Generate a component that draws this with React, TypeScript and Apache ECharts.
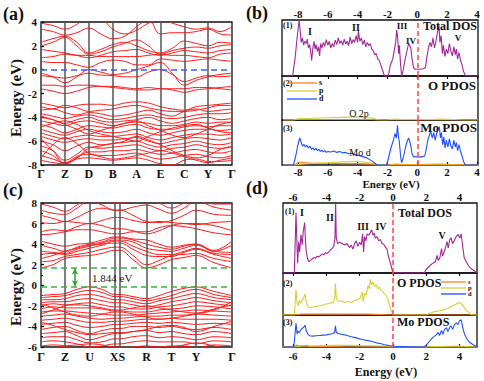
import React, { useEffect, useRef } from "react";
import * as echarts from "echarts";

const FONT = "'Liberation Serif', 'Times New Roman', serif";
const RED = "#ff1a1a";
const MAGENTA = "#a3279b";
const ORANGE = "#ff7f27";
const YELLOW = "#d6d032";
const BLUE = "#1f4fff";

// ---------- Panel (a): band structure ----------
const kA = [0, 0.5, 1, 1.5, 2, 2.5, 3, 3.5, 4, 4.5, 5, 5.5, 6, 6.5, 7, 7.5, 8];
const symA = [0, 1, 2, 3, 4, 5, 6, 7, 8];
const symLabelsA = ["Γ", "Z", "D", "B", "A", "E", "C", "Y", "Γ"];
const yTicksA = [-8, 4];

const bandsAConduction = [
  [3.9, 3.7, 3.4, 3.8, 4.4, 4.3, 3.4, 3.0, 3.3, 3.9, 4.2, 3.9, 3.6, 3.4, 3.5, 3.2, 3.6],
  [3.4, 3.2, 2.9, 3.1, 3.5, 3.0, 2.6, 2.8, 3.6, 4.2, 3.0, 3.1, 3.1, 3.2, 3.4, 3.0, 2.9],
  [2.3, 2.6, 2.8, 2.3, 1.4, 1.7, 2.1, 2.3, 2.0, 1.6, 1.4, 1.8, 2.4, 2.2, 2.0, 2.3, 2.2],
  [2.0, 2.3, 2.7, 2.0, 1.3, 1.5, 1.9, 2.2, 2.5, 2.0, 1.3, 1.6, 1.8, 1.9, 1.8, 2.0, 2.1],
  [1.7, 1.55, 1.4, 1.2, 1.0, 1.2, 1.5, 1.6, 1.7, 1.4, 1.2, 1.4, 1.6, 1.5, 1.4, 1.6, 1.7],
  [1.0, 1.1, 1.3, 1.2, 1.2, 1.1, 1.1, 1.1, 1.1, 1.2, 1.3, 1.2, 1.2, 1.1, 1.0, 1.3, 1.4],
  [0.7, 0.6, 0.6, 0.4, 0.2, 0.6, 0.8, 0.7, 0.4, 0.4, 0.9, 0.8, 0.7, 0.8, 0.9, 0.8, 0.7],
  [-0.3, -0.6, -1.1, -0.6, 0.0, -0.2, -0.4, -0.3, 0.0, 0.3, 0.6, -0.3, -1.3, -0.9, -0.6, -0.4, -0.3],
  [-0.5, -0.6, -0.7, -0.5, -0.3, -0.45, -0.5, -0.6, -0.6, -0.2, 0.0, -0.4, -1.0, -0.7, -0.5, -0.6, -0.5],
  [-1.3, -1.3, -1.4, -1.3, -1.3, -1.4, -1.5, -1.6, -1.7, -1.7, -1.6, -1.7, -1.9, -1.7, -1.6, -1.5, -1.4],
  [-1.6, -1.8, -2.0, -1.8, -1.5, -1.4, -1.4, -1.5, -1.6, -1.5, -1.6, -1.6, -1.6, -1.5, -1.5, -1.6, -1.7],
];

const bandsAValence = [
  [-2.8, -3.0, -3.2, -3.0, -2.9, -2.9, -3.0, -2.8, -2.7, -2.8, -3.1, -3.3, -3.4, -3.1, -3.0, -2.9, -2.8],
  [-3.1, -3.3, -3.0, -3.2, -3.5, -3.4, -3.3, -3.1, -3.0, -3.2, -3.4, -3.5, -3.5, -3.4, -3.2, -3.0, -3.0],
  [-3.4, -3.3, -3.6, -3.8, -3.6, -3.7, -3.9, -3.8, -3.6, -3.4, -3.7, -3.9, -3.5, -3.3, -3.5, -3.4, -3.3],
  [-3.7, -3.9, -4.1, -3.9, -3.8, -4.0, -4.2, -4.1, -3.9, -3.8, -4.0, -4.1, -4.0, -3.8, -3.7, -3.7, -3.6],
  [-4.0, -4.2, -4.5, -4.2, -4.0, -4.3, -4.4, -4.3, -4.2, -4.0, -4.3, -4.5, -4.3, -4.1, -4.0, -4.2, -4.1],
  [-4.3, -4.5, -4.7, -4.4, -4.3, -4.5, -4.7, -4.5, -4.4, -4.5, -4.7, -4.7, -4.6, -4.4, -4.5, -4.4, -4.4],
  [-4.6, -4.9, -5.3, -5.0, -4.7, -4.8, -4.9, -4.7, -4.6, -4.9, -5.0, -5.0, -4.8, -4.7, -4.8, -4.7, -4.7],
  [-5.0, -5.3, -5.5, -5.2, -5.0, -5.2, -5.3, -5.2, -5.0, -5.3, -5.5, -5.3, -5.1, -5.0, -5.0, -5.1, -5.0],
  [-5.3, -5.6, -5.8, -5.6, -5.5, -5.6, -5.6, -5.5, -5.4, -5.7, -5.9, -5.7, -5.5, -5.4, -5.4, -5.5, -5.4],
  [-5.6, -5.9, -6.1, -5.9, -5.8, -5.9, -5.9, -5.8, -5.7, -6.0, -6.2, -6.0, -5.8, -5.7, -5.8, -5.9, -5.7],
  [-6.0, -6.3, -6.8, -6.4, -6.1, -6.3, -6.2, -6.1, -6.0, -6.3, -6.5, -6.3, -6.2, -6.0, -6.2, -6.3, -6.1],
  [-6.4, -6.8, -7.6, -7.1, -6.5, -6.6, -6.5, -6.4, -6.3, -6.6, -6.8, -6.6, -6.5, -6.3, -6.5, -6.6, -6.5],
  [-6.8, -7.2, -7.9, -7.4, -6.9, -6.9, -6.8, -6.8, -6.7, -6.9, -7.1, -7.0, -6.8, -6.7, -6.9, -7.0, -6.8],
  [-7.2, -7.5, -7.8, -7.3, -7.1, -7.2, -7.2, -7.1, -7.0, -7.3, -7.5, -7.4, -7.2, -7.1, -7.3, -7.4, -7.2],
  [-7.6, -7.8, -7.9, -7.5, -7.4, -7.5, -7.6, -7.5, -7.4, -7.6, -7.9, -8.0, -7.6, -7.5, -7.7, -7.7, -7.6],
  [-7.4, -6.3, -5.7, -6.2, -7.0, -7.3, -7.5, -7.4, -7.2, -7.0, -6.8, -7.0, -7.3, -7.6, -7.8, -7.6, -7.4],
  [-5.8, -6.8, -7.85, -7.4, -6.6, -6.4, -6.2, -6.0, -5.6, -5.9, -6.3, -6.8, -7.2, -7.4, -7.2, -6.7, -6.4],
  [-4.8, -4.5, -4.3, -4.6, -5.1, -5.4, -5.6, -5.8, -6.0, -5.6, -5.2, -4.9, -4.7, -4.6, -4.9, -5.2, -5.3],
  [-3.9, -4.2, -4.6, -5.0, -5.4, -5.1, -4.8, -4.5, -4.3, -4.7, -5.1, -5.5, -5.7, -5.4, -5.0, -4.6, -4.4],
];

// ---------- Panel (c): band structure ----------
const kC = [0, 12, 24, 36, 48.5, 61, 74, 79, 92, 105.5, 118, 130.5, 143, 155, 173, 191];
const symC = [0, 24, 48.5, 74, 79, 105.5, 130.5, 155, 191];
const labelPosC = [0, 24, 48.5, 76.5, 105.5, 130.5, 155, 191];
const symLabelsC = ["Γ", "Z", "U", "XS", "R", "T", "Y", "Γ"];
const vbmC = -0.15;
const gapC = 1.844;

const bandsCConduction = [
  [1.69, 2.0, 2.6, 2.8, 2.9, 3.1, 3.4, 3.4, 2.5, 1.69, 2.0, 2.5, 2.7, 2.9, 2.2, 1.69],
  [2.3, 2.4, 2.8, 3.0, 3.2, 3.5, 3.7, 3.7, 2.9, 2.0, 2.4, 2.9, 3.0, 3.1, 2.6, 2.3],
  [2.6, 2.9, 3.3, 3.6, 3.9, 4.0, 4.1, 4.1, 3.5, 2.9, 2.8, 2.8, 3.2, 3.5, 3.0, 2.6],
  [3.0, 3.1, 3.0, 3.3, 3.6, 3.9, 4.3, 4.3, 3.8, 3.3, 3.0, 3.0, 3.3, 3.6, 3.1, 3.0],
  [3.3, 3.2, 3.1, 3.5, 3.8, 4.1, 4.4, 4.4, 4.2, 3.6, 3.4, 3.3, 3.6, 3.9, 3.3, 3.2],
  [3.9, 3.6, 3.3, 3.7, 4.0, 4.2, 4.6, 4.6, 4.4, 4.0, 3.7, 3.5, 3.8, 4.0, 3.3, 3.9],
  [4.3, 4.0, 3.8, 4.0, 4.1, 4.4, 4.7, 4.7, 4.5, 4.4, 4.0, 3.7, 3.9, 4.0, 3.4, 4.3],
  [4.9, 5.0, 5.2, 5.4, 5.4, 5.2, 5.0, 5.0, 5.2, 5.2, 5.6, 5.8, 5.7, 5.5, 5.1, 4.9],
  [5.2, 5.4, 5.3, 5.7, 6.0, 5.8, 5.5, 5.5, 5.3, 5.0, 5.3, 5.8, 6.0, 6.0, 5.8, 5.3],
  [6.1, 6.0, 6.2, 6.1, 6.0, 6.3, 6.6, 6.6, 6.3, 6.1, 6.2, 6.1, 6.0, 5.9, 6.1, 6.2],
  [6.8, 6.5, 6.2, 6.6, 7.2, 7.5, 7.3, 7.3, 6.8, 6.2, 6.1, 6.3, 6.8, 7.3, 6.9, 6.8],
  [7.3, 7.0, 6.9, 7.5, 8.2, 7.8, 7.3, 7.3, 7.6, 7.8, 7.4, 7.0, 7.5, 8.2, 7.6, 7.3],
  [7.9, 7.6, 7.2, 7.8, 8.5, 8.3, 8.0, 8.0, 8.3, 8.4, 8.0, 7.5, 8.0, 8.4, 7.9, 7.9],
];

const bandsCValence = [
  [-1.0, -0.9, -0.8, -0.4, -0.15, -0.4, -0.9, -0.9, -1.1, -1.3, -1.0, -0.6, -0.3, -0.15, -0.6, -1.0],
  [-1.2, -1.1, -1.0, -0.7, -0.5, -0.7, -1.1, -1.1, -1.3, -1.5, -1.3, -1.0, -0.6, -0.4, -0.9, -1.2],
  [-1.4, -1.4, -1.3, -1.0, -0.9, -1.1, -1.4, -1.4, -1.6, -1.8, -1.5, -1.3, -1.0, -0.8, -1.2, -1.4],
  [-1.7, -1.6, -1.6, -1.4, -1.3, -1.5, -1.7, -1.7, -1.9, -2.1, -1.9, -1.6, -1.4, -1.2, -1.5, -1.7],
  [-2.0, -1.8, -1.9, -1.8, -1.7, -1.9, -2.1, -2.1, -2.3, -2.3, -2.1, -2.0, -1.8, -1.6, -1.8, -2.0],
  [-2.3, -2.1, -2.2, -2.2, -2.2, -2.3, -2.5, -2.5, -2.6, -2.6, -2.4, -2.3, -2.2, -2.0, -2.1, -2.3],
  [-2.6, -2.5, -2.5, -2.6, -2.7, -2.8, -2.9, -2.9, -2.9, -2.8, -2.7, -2.6, -2.5, -2.4, -2.5, -2.6],
  [-3.0, -2.9, -2.8, -3.0, -3.2, -3.3, -3.2, -3.2, -3.1, -3.0, -3.0, -2.9, -2.9, -2.8, -2.9, -3.0],
  [-3.4, -3.3, -3.2, -3.4, -3.6, -3.6, -3.5, -3.5, -3.4, -3.3, -3.3, -3.2, -3.3, -3.3, -3.3, -3.4],
  [-3.8, -3.7, -3.6, -3.9, -4.1, -4.0, -3.8, -3.8, -3.7, -3.6, -3.7, -3.6, -3.7, -3.8, -3.7, -3.8],
  [-4.3, -4.1, -4.0, -4.4, -4.7, -4.4, -4.2, -4.2, -4.0, -4.0, -4.1, -4.0, -4.2, -4.3, -4.1, -4.3],
  [-4.7, -4.6, -4.5, -4.9, -5.3, -5.0, -4.7, -4.7, -4.5, -4.4, -4.6, -4.5, -4.7, -4.8, -4.5, -4.7],
  [-5.1, -5.0, -5.0, -5.3, -5.6, -5.5, -5.2, -5.2, -5.0, -4.9, -5.1, -5.0, -5.1, -5.3, -5.0, -5.1],
  [-5.5, -5.4, -5.5, -5.7, -6.0, -5.9, -5.7, -5.7, -5.5, -5.4, -5.5, -5.5, -5.5, -5.7, -5.4, -5.5],
  [-5.9, -5.8, -5.9, -6.2, -6.5, -6.3, -6.1, -6.1, -6.0, -5.9, -6.0, -5.9, -5.9, -6.1, -5.8, -5.9],
  [-2.8, -2.4, -2.0, -1.9, -2.0, -2.2, -2.4, -2.4, -2.2, -2.0, -2.2, -2.4, -2.6, -2.7, -2.3, -1.9],
  [-1.8, -2.2, -2.6, -2.9, -3.0, -2.8, -2.6, -2.6, -2.8, -3.1, -3.3, -3.2, -3.0, -2.8, -2.4, -1.6],
  [-3.6, -3.9, -4.3, -4.6, -4.8, -4.7, -4.6, -4.6, -4.5, -4.3, -4.0, -3.9, -4.1, -4.5, -4.0, -3.5],
  [-6.3, -6.1, -5.9, -5.8, -5.7, -5.8, -6.0, -6.0, -6.2, -6.4, -6.2, -6.0, -5.8, -5.6, -5.9, -6.3],
];

// ---------- Panel (b): DOS ----------
const energyTicksB = [-8, -6, -4, -2, 0, 2, 4];
const totalDosB = [
  [-9.0, 0], [-8.36, 0], [-8.2, 30], [-8.05, 70], [-7.92, 100], [-7.85, 80], [-7.78, 60], [-7.7, 68], [-7.62, 55], [-7.55, 62],
  [-7.45, 58], [-7.38, 66], [-7.3, 50], [-7.22, 56], [-7.15, 45], [-7.08, 28], [-7.0, 50], [-6.92, 62], [-6.85, 48], [-6.78, 56],
  [-6.7, 44], [-6.62, 52], [-6.55, 36], [-6.48, 58], [-6.4, 50], [-6.3, 60], [-6.2, 53], [-6.1, 65], [-6.0, 55], [-5.9, 62],
  [-5.8, 50], [-5.7, 58], [-5.6, 52], [-5.5, 64], [-5.4, 56], [-5.3, 68], [-5.2, 58], [-5.1, 63], [-5.0, 55], [-4.9, 66],
  [-4.8, 57], [-4.7, 62], [-4.6, 54], [-4.5, 70], [-4.4, 58], [-4.3, 65], [-4.2, 60], [-4.1, 72], [-4.0, 60], [-3.95, 80],
  [-3.85, 62], [-3.75, 68], [-3.65, 56], [-3.55, 64], [-3.45, 52], [-3.35, 60], [-3.25, 54], [-3.15, 58], [-3.05, 48], [-2.95, 45],
  [-2.85, 38], [-2.75, 40], [-2.65, 30], [-2.55, 28], [-2.45, 20], [-2.35, 12], [-2.2, 0], [-1.95, 0], [-1.8, 20], [-1.65, 30],
  [-1.55, 45], [-1.45, 60], [-1.38, 82], [-1.32, 70], [-1.25, 40], [-1.2, 55], [-1.12, 20], [-1.05, 0], [-0.95, 10], [-0.85, 25],
  [-0.75, 38], [-0.65, 50], [-0.58, 58], [-0.5, 54], [-0.42, 48], [-0.35, 30], [-0.25, 15], [-0.15, 12], [0.0, 12], [0.2, 12],
  [0.4, 13], [0.55, 15], [0.65, 35], [0.75, 50], [0.85, 60], [0.95, 52], [1.05, 68], [1.15, 50], [1.25, 62], [1.35, 78],
  [1.45, 90], [1.52, 60], [1.6, 72], [1.68, 40], [1.75, 55], [1.85, 35], [1.95, 48], [2.05, 40], [2.15, 58], [2.25, 45],
  [2.35, 36], [2.45, 52], [2.55, 38], [2.62, 48], [2.7, 30], [2.8, 42], [2.9, 28], [3.0, 20], [3.1, 8], [3.25, 0], [4.1, 0],
];
const oSB = [[-9.0, 0], [-8.3, 0], [-8.0, 1], [-3.0, 1], [-2.7, 0], [4.1, 0]];
const oPB = [
  [-9.0, 0], [-8.3, 0], [-8.0, 3], [-7.0, 4], [-6.0, 5], [-5.0, 6], [-4.0, 7], [-3.5, 6], [-3.0, 4], [-2.7, 1],
  [-2.2, 0], [-1.8, 1], [-1.4, 2], [-1.0, 1], [0, 1], [1, 1], [1.5, 2], [2.5, 1], [3.2, 0], [4.1, 0],
];
const moSB = [
  [-9.0, 0], [-8.2, 0], [-8.0, 6], [-7.5, 5], [-7.0, 4], [-6.0, 4], [-5.0, 3], [-4.0, 3], [-3.0, 2], [-2.7, 0],
  [-2.0, 0], [-1.4, 2], [-1.0, 1], [0, 1], [1.5, 2], [3.2, 0], [4.1, 0],
];
const moPB = [[-9.0, 0], [-8.2, 0], [-7.5, 3], [-6.0, 5], [-5.0, 7], [-4.0, 8], [-3.5, 6], [-3.0, 4], [-2.7, 1], [-2.0, 0], [4.1, 0]];
const moDB = [
  [-9.0, 0], [-8.3, 0], [-8.15, 20], [-8.0, 45], [-7.88, 60], [-7.8, 52], [-7.7, 42], [-7.6, 46], [-7.5, 40], [-7.4, 44],
  [-7.3, 38], [-7.2, 42], [-7.1, 35], [-7.0, 38], [-6.9, 33], [-6.8, 37], [-6.7, 32], [-6.6, 35], [-6.5, 30], [-6.4, 33],
  [-6.3, 29], [-6.2, 32], [-6.1, 28], [-6.0, 30], [-5.8, 29], [-5.6, 31], [-5.4, 28], [-5.2, 30], [-5.0, 27], [-4.8, 28],
  [-4.6, 25], [-4.4, 26], [-4.2, 23], [-4.0, 22], [-3.8, 20], [-3.6, 18], [-3.4, 16], [-3.2, 12], [-3.0, 8], [-2.85, 4],
  [-2.7, 0], [-2.05, 0], [-1.9, 20], [-1.75, 40], [-1.6, 55], [-1.5, 70], [-1.4, 60], [-1.33, 88], [-1.27, 65], [-1.2, 50],
  [-1.12, 20], [-1.05, 5], [-0.95, 15], [-0.85, 30], [-0.75, 45], [-0.65, 55], [-0.58, 60], [-0.5, 52], [-0.42, 40], [-0.35, 25],
  [-0.25, 18], [0.0, 18], [0.3, 18], [0.5, 20], [0.6, 35], [0.7, 55], [0.8, 65], [0.9, 75], [1.0, 60], [1.1, 72],
  [1.2, 55], [1.3, 70], [1.4, 80], [1.48, 85], [1.55, 60], [1.62, 72], [1.7, 45], [1.78, 62], [1.86, 38], [1.95, 55],
  [2.05, 40], [2.15, 58], [2.25, 42], [2.35, 36], [2.45, 55], [2.55, 40], [2.62, 50], [2.7, 32], [2.8, 45], [2.9, 30],
  [3.0, 20], [3.1, 8], [3.22, 0], [4.1, 0],
];

// ---------- Panel (d): DOS ----------
const energyTicksD = [-6, -4, -2, 0, 2, 4];
const totalDosD = [
  [-6.7, 0], [-5.92, 0], [-5.86, 50], [-5.82, 86], [-5.76, 40], [-5.72, 14], [-5.66, 45], [-5.6, 30], [-5.52, 55], [-5.45, 40],
  [-5.38, 60], [-5.3, 72], [-5.25, 45], [-5.2, 30], [-5.12, 20], [-5.05, 16], [-4.95, 18], [-4.85, 20], [-4.75, 22], [-4.65, 21],
  [-4.55, 24], [-4.45, 23], [-4.35, 25], [-4.25, 27], [-4.15, 26], [-4.05, 29], [-3.95, 28], [-3.85, 30], [-3.75, 33], [-3.65, 35],
  [-3.55, 38], [-3.48, 50], [-3.44, 100], [-3.4, 50], [-3.32, 42], [-3.2, 44], [-3.05, 42], [-2.9, 40], [-2.75, 42], [-2.6, 36],
  [-2.5, 40], [-2.4, 34], [-2.3, 42], [-2.2, 46], [-2.1, 38], [-2.0, 44], [-1.9, 40], [-1.82, 56], [-1.76, 30], [-1.7, 52],
  [-1.62, 46], [-1.55, 56], [-1.45, 54], [-1.35, 58], [-1.28, 62], [-1.2, 54], [-1.12, 57], [-1.05, 50], [-0.95, 52], [-0.85, 46],
  [-0.75, 48], [-0.65, 42], [-0.55, 41], [-0.45, 37], [-0.35, 34], [-0.28, 25], [-0.2, 18], [-0.1, 10], [0.0, 0], [1.87, 0],
  [2.0, 5], [2.2, 10], [2.4, 14], [2.55, 16], [2.65, 25], [2.72, 18], [2.82, 22], [2.92, 35], [2.98, 24], [3.08, 30],
  [3.18, 38], [3.25, 45], [3.32, 36], [3.42, 48], [3.5, 50], [3.58, 42], [3.68, 46], [3.8, 52], [3.92, 55], [4.02, 50],
  [4.1, 56], [4.18, 40], [4.28, 22], [4.4, 16], [4.55, 10], [4.7, 6], [4.85, 4], [5.0, 1], [5.1, 0],
];
const oSD = [[-6.7, 0], [-5.9, 0], [-5.5, 2], [-3.0, 2], [-1.5, 2], [0, 0], [5.1, 0]];
const oPD = [
  [-6.7, 0], [-5.92, 0], [-5.86, 35], [-5.82, 60], [-5.76, 30], [-5.7, 22], [-5.62, 35], [-5.55, 28], [-5.45, 35], [-5.35, 42],
  [-5.28, 50], [-5.2, 30], [-5.1, 20], [-5.0, 18], [-4.8, 19], [-4.6, 21], [-4.4, 22], [-4.2, 24], [-4.0, 26], [-3.8, 28],
  [-3.6, 30], [-3.5, 38], [-3.45, 75], [-3.4, 40], [-3.3, 32], [-3.1, 34], [-2.9, 30], [-2.7, 33], [-2.5, 30], [-2.3, 34],
  [-2.1, 37], [-1.95, 40], [-1.85, 55], [-1.78, 32], [-1.7, 52], [-1.6, 48], [-1.5, 70], [-1.42, 62], [-1.35, 85], [-1.28, 72],
  [-1.2, 78], [-1.1, 68], [-1.0, 72], [-0.9, 62], [-0.8, 66], [-0.7, 58], [-0.6, 55], [-0.5, 50], [-0.4, 45], [-0.3, 38],
  [-0.2, 22], [-0.1, 10], [0.0, 0], [2.0, 0], [2.2, 4], [2.5, 8], [2.8, 10], [3.0, 12], [3.2, 14], [3.4, 18],
  [3.6, 22], [3.8, 26], [4.0, 30], [4.1, 28], [4.25, 20], [4.4, 12], [4.55, 6], [4.7, 1], [4.8, 0], [5.1, 0],
];
const moSD = [[-6.7, 0], [-5.9, 0], [-5.8, 6], [-5.6, 3], [-5.2, 5], [-5.0, 2], [-3.0, 1], [0, 0], [5.1, 0]];
const moPD = [[-6.7, 0], [-5.9, 0], [-5.5, 3], [-4.5, 4], [-3.5, 5], [-2.5, 5], [-1.5, 4], [-0.5, 3], [0, 0], [2, 0], [3, 2], [4, 3], [4.8, 0], [5.1, 0]];
const moDD = [
  [-6.7, 0], [-5.95, 0], [-5.88, 40], [-5.82, 74], [-5.75, 40], [-5.7, 50], [-5.62, 45], [-5.55, 52], [-5.45, 58], [-5.35, 62],
  [-5.28, 68], [-5.2, 50], [-5.1, 40], [-5.0, 35], [-4.8, 34], [-4.6, 35], [-4.4, 36], [-4.2, 37], [-4.0, 38], [-3.8, 40],
  [-3.6, 42], [-3.5, 45], [-3.45, 66], [-3.4, 46], [-3.3, 42], [-3.1, 40], [-2.9, 38], [-2.7, 35], [-2.5, 32], [-2.3, 30],
  [-2.1, 27], [-1.9, 24], [-1.7, 22], [-1.5, 20], [-1.3, 18], [-1.1, 15], [-0.9, 12], [-0.7, 10], [-0.5, 7], [-0.3, 5],
  [-0.1, 3], [0, 2], [1.0, 1], [1.85, 0], [2.0, 6], [2.2, 18], [2.4, 30], [2.6, 38], [2.72, 45], [2.8, 36],
  [2.92, 52], [3.0, 40], [3.1, 55], [3.22, 60], [3.3, 48], [3.42, 62], [3.5, 66], [3.58, 55], [3.7, 70], [3.82, 75],
  [3.9, 70], [4.0, 82], [4.1, 85], [4.2, 60], [4.3, 40], [4.45, 25], [4.6, 15], [4.8, 8], [4.95, 3], [5.1, 0],
];

const B_MIN = -9.07, B_MAX = 4.07;
const D_MIN = -6.6, D_MAX = 5.05;

function bandSeries(bands: number[][], ks: number[], gi: number) {
  return bands.map((b) => ({
    type: "line",
    xAxisIndex: gi,
    yAxisIndex: gi,
    data: ks.map((k, i) => [k, b[i]]),
    smooth: 0.4,
    symbol: "none",
    silent: true,
    clip: true,
    z: 2,
    lineStyle: { color: RED, width: 1 },
  }));
}

function dosSeries(data: number[][], gi: number, color: string, zeroLine: boolean, width = 1.1) {
  const s: any = {
    type: "line",
    xAxisIndex: gi,
    yAxisIndex: gi,
    data,
    symbol: "none",
    silent: true,
    clip: true,
    lineStyle: { color, width },
    z: 2,
  };
  if (zeroLine) {
    s.markLine = {
      silent: true,
      symbol: "none",
      label: { show: false },
      lineStyle: { color: "#ff4545", type: [5, 3], width: 1.5 },
      data: [{ xAxis: 0 }],
    };
  }
  return s;
}

const tickLabelStyle = { fontFamily: FONT, fontWeight: "bold", color: "#111" };

function txt(text: string, x: number, y: number, size: number, align = "left", bold = true, fill = "#111") {
  return {
    type: "text",
    x,
    y,
    silent: true,
    z: 10,
    style: {
      text,
      fontFamily: FONT,
      fontSize: size,
      fontWeight: bold ? "bold" : "normal",
      fill,
      textAlign: align,
      textVerticalAlign: "middle",
    },
  };
}

function legendLine(x1: number, x2: number, y: number, color: string) {
  return { type: "line", silent: true, z: 10, shape: { x1, y1: y, x2, y2: y }, style: { stroke: color, lineWidth: 1.3 } };
}

function nearestLabel(v: number, pos: number[], labels: string[]) {
  let best = 0;
  for (let i = 1; i < pos.length; i++) if (Math.abs(pos[i] - v) < Math.abs(pos[best] - v)) best = i;
  return labels[best];
}

export default function App() {
  const ref = useRef<HTMLDivElement>(null);
  useEffect(() => {
    if (!ref.current) return;
    const chart = echarts.init(ref.current, undefined, { renderer: "svg" });
    const border = { show: true, borderColor: "#111", borderWidth: 1.3, backgroundColor: "transparent" };
    const grids = [
      { left: 41, top: 22, width: 191, height: 143, ...border },
      { left: 41, top: 203, width: 191, height: 144, ...border },
      { left: 282, top: 20, width: 196, height: 56, ...border },
      { left: 282, top: 76, width: 196, height: 44, ...border },
      { left: 282, top: 120, width: 196, height: 45, ...border },
      { left: 283, top: 203, width: 194, height: 70, ...border },
      { left: 283, top: 273, width: 194, height: 42, ...border },
      { left: 283, top: 315, width: 194, height: 32, ...border },
    ];

    const noLine = { show: false };
    const dosX = (gi: number, min: number, max: number, ticks: number[], pos: string | null, margin: number) =>
      pos
        ? {
            gridIndex: gi,
            type: "value",
            min,
            max,
            position: pos,
            axisLine: noLine,
            splitLine: noLine,
            axisTick: { show: true, inside: true, length: 3, customValues: ticks, lineStyle: { color: "#111", width: 1.2 } },
            axisLabel: { ...tickLabelStyle, fontSize: 11, margin, customValues: ticks },
          }
        : { gridIndex: gi, type: "value", min, max, show: false };

    const xAxes = [
      {
        gridIndex: 0,
        type: "value",
        min: 0,
        max: 8,
        interval: 1,
        axisLine: noLine,
        axisTick: noLine,
        splitLine: noLine,
        axisLabel: { ...tickLabelStyle, fontSize: 12, margin: 3, formatter: (v: number) => nearestLabel(v, symA, symLabelsA) },
      },
      {
        gridIndex: 1,
        type: "value",
        min: 0,
        max: 191,
        axisLine: noLine,
        axisTick: noLine,
        splitLine: noLine,
        axisLabel: {
          ...tickLabelStyle,
          fontSize: 12,
          margin: 4,
          customValues: labelPosC,
          formatter: (v: number) => nearestLabel(v, labelPosC, symLabelsC),
        },
      },
      dosX(2, B_MIN, B_MAX, energyTicksB, "top", 1),
      dosX(3, B_MIN, B_MAX, energyTicksB, null, 0),
      dosX(4, B_MIN, B_MAX, energyTicksB, "bottom", 1),
      dosX(5, D_MIN, D_MAX, energyTicksD, "top", 1),
      dosX(6, D_MIN, D_MAX, energyTicksD, null, 0),
      dosX(7, D_MIN, D_MAX, energyTicksD, "bottom", 3),
    ];

    const yAxes: any[] = [
      {
        gridIndex: 0,
        type: "value",
        min: yTicksA[0],
        max: yTicksA[1],
        interval: 2,
        axisLine: noLine,
        splitLine: noLine,
        axisTick: { show: true, inside: true, length: 3, lineStyle: { color: "#111", width: 1.3 } },
        axisLabel: { ...tickLabelStyle, fontSize: 11, margin: 4 },
      },
      {
        gridIndex: 1,
        type: "value",
        min: -6,
        max: 8,
        interval: 2,
        axisLine: noLine,
        splitLine: noLine,
        axisTick: { show: true, inside: true, length: 3, lineStyle: { color: "#111", width: 1.3 } },
        minorTick: { show: true, splitNumber: 2, length: 2, lineStyle: { color: "#111", width: 1 } },
        axisLabel: { ...tickLabelStyle, fontSize: 11, margin: 4 },
      },
    ];
    for (let gi = 2; gi <= 7; gi++) yAxes.push({ gridIndex: gi, type: "value", min: 0, max: 100, show: false });

    const series: any[] = [
      ...bandSeries(bandsAConduction, kA, 0),
      ...bandSeries(bandsAValence, kA, 0),
      {
        type: "line",
        xAxisIndex: 0,
        yAxisIndex: 0,
        data: [[0, 0], [8, 0]],
        symbol: "none",
        silent: true,
        lineStyle: { opacity: 0 },
        z: 3,
        markLine: {
          silent: true,
          symbol: "none",
          label: { show: false },
          data: [
            ...symA.slice(1, -1).map((k) => ({ xAxis: k, lineStyle: { color: "#555", width: 1.5, type: "solid" } })),
            { yAxis: 0, lineStyle: { color: "#3a5cff", width: 1.6, type: [6, 4] } },
          ],
        },
      },
      ...bandSeries(bandsCConduction, kC, 1),
      ...bandSeries(bandsCValence, kC, 1),
      {
        type: "line",
        xAxisIndex: 1,
        yAxisIndex: 1,
        data: [[0, 0], [191, 0]],
        symbol: "none",
        silent: true,
        lineStyle: { opacity: 0 },
        z: 3,
        markLine: {
          silent: true,
          symbol: "none",
          label: { show: false },
          data: [
            ...symC.slice(1, -1).map((k) => ({ xAxis: k, lineStyle: { color: "#555", width: 1.5, type: "solid" } })),
            { yAxis: vbmC, lineStyle: { color: "#3cb043", width: 1.6, type: [6, 4] } },
            { yAxis: vbmC + gapC, lineStyle: { color: "#3cb043", width: 1.6, type: [6, 4] } },
          ],
        },
      },
      {
        type: "line",
        xAxisIndex: 1,
        yAxisIndex: 1,
        data: [],
        symbol: "none",
        silent: true,
        z: 4,
        markLine: {
          silent: true,
          symbol: ["arrow", "arrow"],
          symbolSize: [5, 6],
          label: { show: false },
          lineStyle: { color: "#2fa52f", width: 1.5, type: "solid" },
          data: [[{ coord: [34, vbmC + 0.05] }, { coord: [34, vbmC + gapC - 0.05] }]],
        },
      },
      // (b)
      dosSeries(totalDosB, 2, MAGENTA, true),
      dosSeries(oSB, 3, ORANGE, false),
      dosSeries(oPB, 3, YELLOW, true),
      dosSeries(moSB, 4, ORANGE, false),
      dosSeries(moPB, 4, YELLOW, false),
      dosSeries(moDB, 4, BLUE, true),
      // (d)
      dosSeries(totalDosD, 5, MAGENTA, true),
      dosSeries(oSD, 6, ORANGE, false),
      dosSeries(oPD, 6, YELLOW, true),
      dosSeries(moSD, 7, ORANGE, false),
      dosSeries(moPD, 7, YELLOW, false),
      dosSeries(moDD, 7, BLUE, true),
    ];

    const graphic: any[] = [
      txt("(a)", 3, 14, 18),
      txt("(b)", 246, 13, 18),
      txt("(c)", 3, 190, 18),
      txt("(d)", 246, 188, 18),
      { ...txt("Energy (eV)", 16, 98, 15, "center"), rotation: Math.PI / 2 },
      { ...txt("Energy (eV)", 16, 287, 15, "center"), rotation: Math.PI / 2 },
      txt("Energy (eV)", 391, 184, 11, "center"),
      txt("Energy (eV)", 386, 372, 12, "center"),
      txt("1.844 eV", 92, 278, 11, "left", false, "#222"),
      // (b) annotations
      txt("(1)", 283, 25, 8),
      txt("I", 310, 31, 10, "center"),
      txt("II", 356, 27, 10, "center"),
      txt("III", 402, 26, 9, "center"),
      txt("IV", 411, 41, 9, "center"),
      txt("V", 458, 38, 9, "center"),
      txt("Total DOS", 477, 26, 12, "right"),
      txt("(2)", 283, 83, 8),
      txt("O PDOS", 476, 85, 13, "right"),
      txt("O 2p", 359, 113, 10, "center", false),
      txt("(3)", 283, 128, 8),
      txt("Mo PDOS", 477, 127, 13, "right"),
      txt("Mo d", 360, 152, 10, "center", false),
      legendLine(287, 317, 83, ORANGE),
      legendLine(287, 317, 91, YELLOW),
      legendLine(287, 317, 99, BLUE),
      txt("s", 319, 82.5, 8),
      txt("p", 319, 90.5, 8),
      txt("d", 319, 98.5, 8),
      // (d) annotations
      txt("(1)", 285, 211, 8),
      txt("I", 302, 212, 10, "center"),
      txt("II", 330, 217, 10, "center"),
      txt("III", 363, 226, 10, "center"),
      txt("IV", 381, 226, 10, "center"),
      txt("V", 442, 235, 10, "center"),
      txt("Total DOS", 398, 213, 12),
      txt("(2)", 283, 283, 8),
      txt("O PDOS", 397, 283, 12),
      legendLine(441, 466, 282, ORANGE),
      legendLine(441, 466, 288, YELLOW),
      legendLine(441, 466, 294, BLUE),
      txt("s", 468, 281.5, 6.5),
      txt("p", 468, 287.5, 6.5),
      txt("d", 468, 293.5, 6.5),
      txt("(3)", 283, 322, 8),
      txt("Mo PDOS", 397, 322, 12),
    ];

    chart.setOption({
      animation: false,
      backgroundColor: "#fff",
      grid: grids,
      xAxis: xAxes,
      yAxis: yAxes,
      series,
      graphic,
    });
    return () => chart.dispose();
  }, []);
  return <div ref={ref} style={{ position: "absolute", left: 0, top: 0, width: 484, height: 381 }} />;
}
